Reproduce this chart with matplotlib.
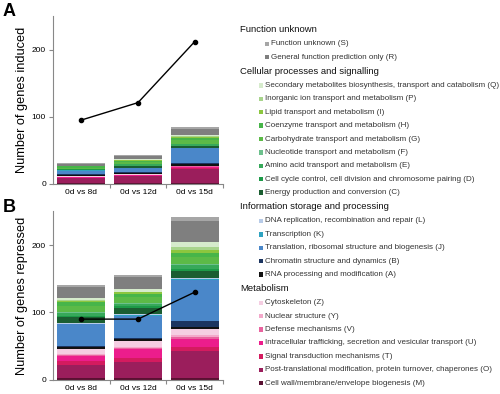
import matplotlib
matplotlib.use("Agg")
import matplotlib.pyplot as plt
from matplotlib.patches import Rectangle
import numpy as np

plt.rcParams['font.family'] = ['Liberation Sans', 'DejaVu Sans']

# comparisons on the x axis
categories = ["0d vs 8d", "0d vs 12d", "0d vs 15d"]

# COG codes in stacking order (bottom -> top)
codes = ["M", "O", "T", "U", "V", "Y", "Z",
         "A", "B", "J", "K", "L",
         "C", "D", "E", "F", "G", "H", "I", "P", "Q",
         "R", "S"]

names = {
    "S": "Function unknown (S)",
    "R": "General function prediction only (R)",
    "Q": "Secondary metabolites biosynthesis, transport and catabolism (Q)",
    "P": "Inorganic ion transport and metabolism (P)",
    "I": "Lipid transport and metabolism (I)",
    "H": "Coenzyme transport and metabolism (H)",
    "G": "Carbohydrate transport and metabolism (G)",
    "F": "Nucleotide transport and metabolism (F)",
    "E": "Amino acid transport and metabolism (E)",
    "D": "Cell cycle control, cell division and chromosome pairing (D)",
    "C": "Energy production and conversion (C)",
    "L": "DNA replication, recombination and repair (L)",
    "K": "Transcription (K)",
    "J": "Translation, ribosomal structure and biogenesis (J)",
    "B": "Chromatin structure and dynamics (B)",
    "A": "RNA processing and modification (A)",
    "Z": "Cytoskeleton (Z)",
    "Y": "Nuclear structure (Y)",
    "V": "Defense mechanisms (V)",
    "U": "Intracellular trafficking, secretion and vesicular transport (U)",
    "T": "Signal transduction mechanisms (T)",
    "O": "Post-translational modification, protein turnover, chaperones (O)",
    "M": "Cell wall/membrane/envelope biogenesis (M)",
}

colors = {
    "S": "#a6a6a6", "R": "#7f7f7f",
    "Q": "#d6ebcc", "P": "#a8d48c", "I": "#8cc63e", "H": "#47b549",
    "G": "#5cba47", "F": "#6cc08c", "E": "#37a95a", "D": "#1d9a48",
    "C": "#1b5e31",
    "L": "#b7cbe8", "K": "#2fa3c1", "J": "#4a87c9", "B": "#1c3560",
    "A": "#111111",
    "Z": "#f5cde2", "Y": "#f3a8ca", "V": "#e9639f", "U": "#ec1d8c",
    "T": "#d41b5f", "O": "#9b1e5c", "M": "#5a1032",
}

groups = [
    ("Function unknown", ["S", "R"]),
    ("Cellular processes and signalling", ["Q", "P", "I", "H", "G", "F", "E", "D", "C"]),
    ("Information storage and processing", ["L", "K", "J", "B", "A"]),
    ("Metabolism", ["Z", "Y", "V", "U", "T", "O", "M"]),
]

# genes induced, per comparison, in stacking order
induced_8d  = [1, 7, 1, 1, 0, 0, 1, 2, 1, 5, 1, 0, 1, 1, 0, 0, 2, 2, 0, 0, 1, 3, 1]
induced_12d = [1, 10, 1, 1, 0, 0, 1, 2, 1, 6, 1, 0, 2, 1, 2, 0, 3, 2, 1, 1, 1, 5, 1]
induced_15d = [1, 21, 1, 2, 1, 0, 1, 2, 2, 22, 1, 0, 2, 1, 2, 1, 5, 3, 2, 1, 2, 9, 3]

# genes repressed, per comparison, in stacking order
repressed_8d  = [2, 20, 6, 7, 2, 1, 8, 3, 1, 32, 1, 1, 9, 2, 4, 1, 9, 6, 2, 2, 2, 16, 3]
repressed_12d = [2, 24, 6, 14, 1, 1, 9, 3, 2, 33, 1, 1, 10, 2, 4, 1, 9, 5, 2, 1, 3, 19, 3]
repressed_15d = [3, 39, 6, 13, 3, 2, 9, 4, 8, 61, 2, 1, 11, 3, 6, 1, 11, 5, 4, 5, 7, 31, 6]

# overlaid line series
induced_line = [95, 121, 212]
repressed_line = [90, 90, 130]

W, H = 500, 394
fig = plt.figure(figsize=(W / 100, H / 100), dpi=100)


def fx(px):
    return px / W


def fy(py):
    return 1 - py / H


def draw_panel(ax, stacks, line, ylabel):
    data = np.array(stacks).T  # codes x categories
    x = np.arange(len(categories))
    bottom = np.zeros(len(categories))
    for i, code in enumerate(codes):
        ax.bar(x, data[i], 0.85, bottom=bottom, color=colors[code], linewidth=0)
        bottom += data[i]
    ax.plot(x, line, color="black", lw=1, marker="o", ms=3, zorder=5)
    ax.set_xlim(-0.5, 2.5)
    ax.set_ylim(0, 250)
    ax.set_yticks([0, 100, 200])
    ax.set_xticks(x)
    ax.set_xticklabels(categories, fontsize=6)
    ax.set_xticks([0.5, 1.5, 2.5], minor=True)
    ax.tick_params(axis="x", which="major", length=0, pad=4)
    ax.tick_params(axis="x", which="minor", length=3, color="#888888", width=0.8)
    ax.tick_params(axis="y", length=3, color="#888888", width=0.8, labelsize=6, pad=2)
    for s in ["top", "right"]:
        ax.spines[s].set_visible(False)
    for s in ["left", "bottom"]:
        ax.spines[s].set_color("#888888")
        ax.spines[s].set_linewidth(0.8)
    ax.set_ylabel(ylabel, fontsize=9.2, labelpad=3)


axA = fig.add_axes([fx(53), fy(183.7), fx(223 - 53), (183.7 - 16.2) / H])
draw_panel(axA, [induced_8d, induced_12d, induced_15d], induced_line,
           "Number of genes induced")
axB = fig.add_axes([fx(53), fy(379.7), fx(223 - 53), (379.7 - 211.4) / H])
draw_panel(axB, [repressed_8d, repressed_12d, repressed_15d], repressed_line,
           "Number of genes repressed")

fig.text(fx(3), fy(11), "A", fontsize=13, fontweight="bold", va="center", ha="left")
fig.text(fx(3), fy(207), "B", fontsize=13, fontweight="bold", va="center", ha="left")

# legend, drawn by hand in figure coordinates
y = 29.3
step = 13.4
for header, items in groups:
    fig.text(fx(240), fy(y), header, fontsize=6.8, color="#111111", va="center", ha="left")
    y += step + 1
    for code in items:
        sx = 265 if code in ("S", "R") else 259
        fig.patches.append(Rectangle((fx(sx), fy(y + 2.2)), fx(4.4), 4.4 / H,
                                     transform=fig.transFigure,
                                     facecolor=colors[code], edgecolor="none"))
        fig.text(fx(sx + 6), fy(y), names[code], fontsize=5.8, color="#333333",
                 va="center", ha="left")
        y += step
    y += 0.5

fig.savefig("out.png", dpi=100)
